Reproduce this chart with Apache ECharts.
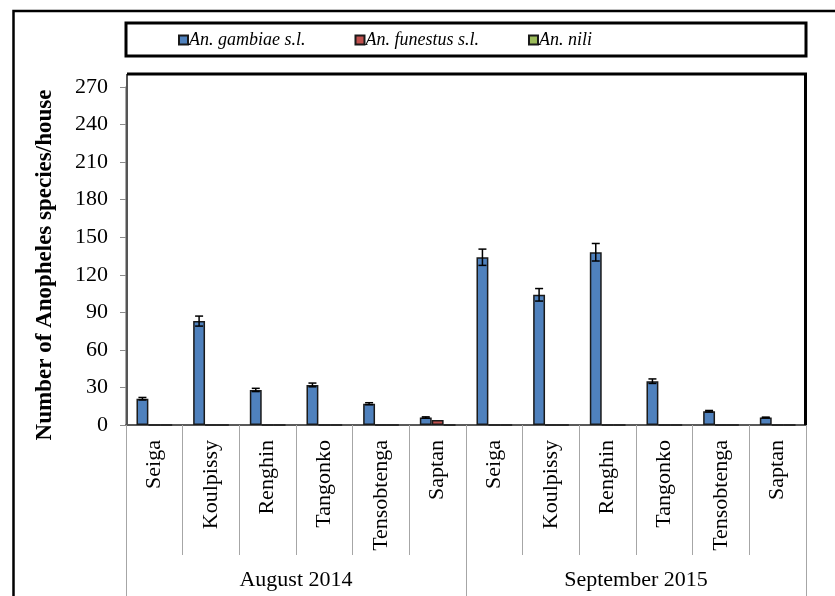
<!DOCTYPE html>
<html>
<head>
<meta charset="utf-8">
<script src="https://cdn.jsdelivr.net/npm/echarts@6/dist/echarts.min.js"></script>
<style>
  html, body { margin: 0; padding: 0; background: #fff; }
  #chart { width: 835px; height: 596px; }
</style>
</head>
<body>
<div id="chart"></div>
<script>
// Villages sampled in each survey
const villages = ['Seiga', 'Koulpissy', 'Renghin', 'Tangonko', 'Tensobtenga', 'Saptan',
                  'Seiga', 'Koulpissy', 'Renghin', 'Tangonko', 'Tensobtenga', 'Saptan'];
const surveys = ['August 2014', 'September 2015'];

// Mean number of mosquitoes per house, by species
const gambiae = [21, 83, 28, 32, 17, 6, 134, 104, 138, 35, 11, 6];
const funestus = [0, 0, 0, 0, 0, 4, 0, 0, 0, 0, 0, 0];
const nili = [0, 0, 0, 0, 0, 0, 0, 0, 0, 0, 0, 0];
// Standard errors of An. gambiae s.l.
const gambiaeErr = [1, 4, 1.3, 1.5, 0.8, 0.5, 6.5, 5, 7, 1.8, 0.6, 0.3];

const yTicks = [0, 30, 60, 90, 120, 150, 180, 210, 240, 270];

const serif = 'Liberation Serif';
const BAR_PCT = 0.21;

const chart = echarts.init(document.getElementById('chart'), null, { renderer: 'canvas' });

const errData = gambiae.map((v, i) => [i, v, gambiaeErr[i]]);

chart.setOption({
  animation: false,
  backgroundColor: '#fff',
  grid: {
    left: 126, right: 29, top: 87, bottom: 171,
    show: false
  },
  legend: {
    left: 178, top: 31, padding: 0,
    itemWidth: 9, itemHeight: 9, itemGap: 49,
    icon: 'rect',
    textStyle: { fontFamily: serif, fontStyle: 'italic', fontSize: 18, color: '#000', padding: [0, 0, 0, -4] },
    data: ['An. gambiae s.l.', 'An. funestus s.l.', 'An. nili']
  },
  xAxis: [
    {
      type: 'category', data: villages, position: 'bottom',
      axisLine: { show: true, lineStyle: { color: '#595959', width: 2 } },
      axisTick: { show: true, length: 130, lineStyle: { color: '#a6a6a6', width: 1 } },
      axisLabel: { rotate: 90, margin: 15, fontFamily: serif, fontSize: 22, color: '#000' },
      splitLine: { show: false }
    },
    {
      type: 'category', data: surveys, position: 'bottom',
      axisLine: { show: false },
      axisTick: { show: true, length: 175, lineStyle: { color: '#a6a6a6', width: 1 } },
      axisLabel: { margin: 144, fontFamily: serif, fontSize: 22, color: '#000' },
      splitLine: { show: false }
    }
  ],
  yAxis: {
    type: 'value', min: yTicks[0], max: yTicks[yTicks.length - 1], interval: 30,
    axisLine: { show: true, lineStyle: { color: '#8c8c8c', width: 1.5 } },
    axisTick: { show: true, length: 6, lineStyle: { color: '#8c8c8c' } },
    axisLabel: { margin: 18, fontFamily: serif, fontSize: 22, color: '#000' },
    splitLine: { show: false }
  },
  series: [
    {
      name: 'An. gambiae s.l.', type: 'bar', data: gambiae,
      barWidth: (BAR_PCT * 100) + '%', barGap: '0%',
      itemStyle: { color: '#4f81bd', borderColor: '#1a1a1a', borderWidth: 1.5 }
    },
    {
      name: 'An. funestus s.l.', type: 'bar', data: funestus,
      barWidth: (BAR_PCT * 100) + '%', barGap: '0%',
      itemStyle: { color: '#c0504d', borderColor: '#1a1a1a', borderWidth: 1.5 }
    },
    {
      name: 'An. nili', type: 'bar', data: nili,
      barWidth: (BAR_PCT * 100) + '%', barGap: '0%',
      itemStyle: { color: '#9bbb59', borderColor: '#1a1a1a', borderWidth: 1.5 }
    },
    {
      // error bars on the An. gambiae s.l. column
      type: 'custom', data: errData, z: 5,
      renderItem: function (params, api) {
        const i = api.value(0), v = api.value(1), e = api.value(2);
        const band = api.size([1, 0])[0];
        const x = api.coord([i, v])[0] - band * BAR_PCT;
        const yt = api.coord([i, v + e])[1];
        const yb = api.coord([i, v - e])[1];
        const cap = 4;
        const st = { stroke: '#000', lineWidth: 1.5 };
        return {
          type: 'group',
          children: [
            { type: 'line', shape: { x1: x, y1: yt, x2: x, y2: yb }, style: st },
            { type: 'line', shape: { x1: x - cap, y1: yt, x2: x + cap, y2: yt }, style: st },
            { type: 'line', shape: { x1: x - cap, y1: yb, x2: x + cap, y2: yb }, style: st }
          ]
        };
      }
    }
  ],
  graphic: [
    // outer frame (left and top edges)
    { type: 'polyline', shape: { points: [[13.5, 600], [13.5, 11], [840, 11]] },
      style: { stroke: '#000', lineWidth: 2.5, fill: null }, z: 10 },
    // legend box
    { type: 'rect', shape: { x: 126, y: 23, width: 680, height: 33 },
      style: { fill: null, stroke: '#000', lineWidth: 3 }, z: 10 },
    // plot area frame (top and right edges)
    { type: 'polyline', shape: { points: [[127, 74], [805.5, 74], [805.5, 425]] },
      style: { stroke: '#000', lineWidth: 3, fill: null }, z: 10 },
    { type: 'line', shape: { x1: 127, y1: 74, x2: 127, y2: 425 },
      style: { stroke: '#555', lineWidth: 2 }, z: 9 },
    // y-axis title
    { type: 'text', x: 45, y: 265, rotation: Math.PI / 2,
      style: { text: 'Number of Anopheles species/house', fontFamily: serif, fontWeight: 'bold',
               fontSize: 23, fill: '#000', align: 'center', verticalAlign: 'middle' } }
  ]
});
</script>
</body>
</html>
